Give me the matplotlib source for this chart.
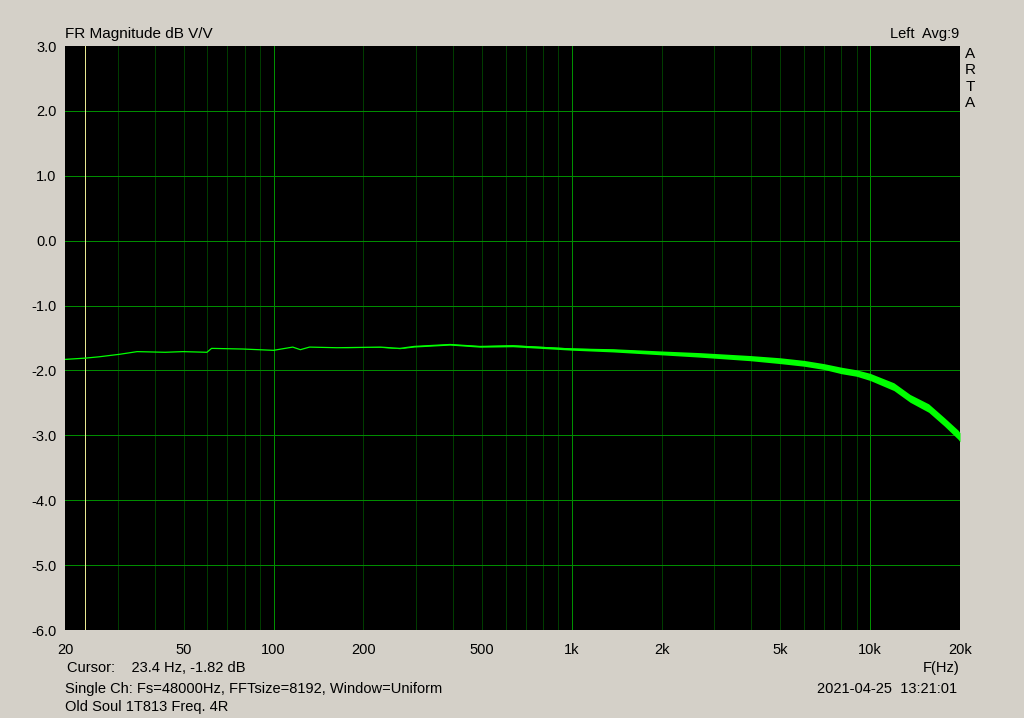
import numpy as np
import matplotlib.pyplot as plt
from matplotlib.ticker import FixedLocator, NullLocator

# Frequency response
freq = [20, 23.4, 26, 30.6, 34.9, 43.3, 49.7, 59.8, 62, 79, 100, 116, 123, 132,
        163, 228, 265, 296, 390, 492, 634, 1000, 1374, 2000, 2680, 3960, 5000,
        6000, 7000, 8000, 9000, 10000, 12000, 13600, 15700, 17700, 19700, 20000]
mag = [-1.83, -1.81, -1.79, -1.75, -1.71, -1.72, -1.71, -1.72, -1.66, -1.67,
       -1.69, -1.64, -1.68, -1.64, -1.65, -1.64, -1.66, -1.63, -1.60, -1.63,
       -1.62, -1.67, -1.69, -1.73, -1.76, -1.81, -1.85, -1.89, -1.94, -2.00,
       -2.04, -2.10, -2.25, -2.43, -2.58, -2.79, -2.99, -3.03]
# half-width of the noise band around the trace (dB)
spread = [0.0, 0.0, 0.0, 0.0, 0.0, 0.0, 0.0, 0.0, 0.0, 0.0,
          0.0, 0.0, 0.0, 0.0, 0.0, 0.005, 0.005, 0.01, 0.01, 0.012,
          0.015, 0.018, 0.025, 0.03, 0.035, 0.04, 0.045, 0.045, 0.045, 0.05,
          0.05, 0.055, 0.06, 0.06, 0.065, 0.065, 0.07, 0.07]

xticks = [20, 50, 100, 200, 500, 1000, 2000, 5000, 10000, 20000]
xlabels = ['20', '50', '100', '200', '500', '1k', '2k', '5k', '10k', '20k']
yticks = [3, 2, 1, 0, -1, -2, -3, -4, -5, -6]
cursor_f = 23.4

bg = '#D4D0C8'
plt.rcParams['font.family'] = ['Liberation Sans', 'DejaVu Sans']

fig = plt.figure(figsize=(10.24, 7.18), dpi=100, facecolor=bg)
ax = fig.add_axes([65/1024, 88/718, 895/1024, 584/718], facecolor='black')
ax.set_xscale('log')
ax.set_xlim(20, 20000)
ax.set_ylim(-6, 3)

# grid
for dec in [10, 100, 1000, 10000]:
    for k in range(1, 10):
        x = dec * k
        if x <= 20 or x >= 20000:
            continue
        col = '#009000' if k == 1 else '#003C00'
        ax.axvline(x, color=col, lw=0.72, zorder=1, snap=True)
for y in yticks[1:-1]:
    ax.axhline(y, color='#008C00', lw=0.72, zorder=1, snap=True)

# cursor
ax.axvline(cursor_f, color='#E8E890', lw=0.72, zorder=2, snap=True)

f = np.array(freq)
m = np.array(mag)
s = np.array(spread)
ax.fill_between(f, m - s, m + s, color='#00FF00', lw=0, zorder=3)
ax.plot(f, m, color='#00FF00', lw=0.9, zorder=4)

ax.xaxis.set_major_locator(FixedLocator(xticks))
ax.xaxis.set_minor_locator(NullLocator())
ax.set_xticklabels(xlabels)
ax.set_yticks(yticks)
ax.set_yticklabels(['%.1f' % v for v in yticks])
ax.tick_params(length=0, labelsize=10.5, colors='black')
ax.tick_params(axis='x', pad=9)
ax.tick_params(axis='y', pad=6)
for sp in ax.spines.values():
    sp.set_visible(False)

fs = 10.5
fig.text(65/1024, 1 - 34/718, 'FR Magnitude dB V/V', fontsize=11, va='center', ha='left')
fig.text(959/1024, 1 - 34/718, 'Left  Avg:9', fontsize=fs, va='center', ha='right')
for i, ch in enumerate('ARTA'):
    fig.text(970/1024, 1 - (54 + 16.3*i)/718, ch, fontsize=11, va='center', ha='center')
fig.text(67/1024, 1 - 668/718, 'Cursor:    23.4 Hz, -1.82 dB', fontsize=fs, va='center', ha='left')
fig.text(65/1024, 1 - 689/718, 'Single Ch: Fs=48000Hz, FFTsize=8192, Window=Uniform',
         fontsize=fs, va='center', ha='left')
fig.text(65/1024, 1 - 707/718, 'Old Soul 1T813 Freq. 4R', fontsize=fs, va='center', ha='left')
fig.text(959/1024, 1 - 668/718, 'F(Hz)', fontsize=fs, va='center', ha='right')
fig.text(957/1024, 1 - 689/718, '2021-04-25  13:21:01', fontsize=fs, va='center', ha='right')

fig.savefig('out.png', dpi=100, facecolor=bg)
